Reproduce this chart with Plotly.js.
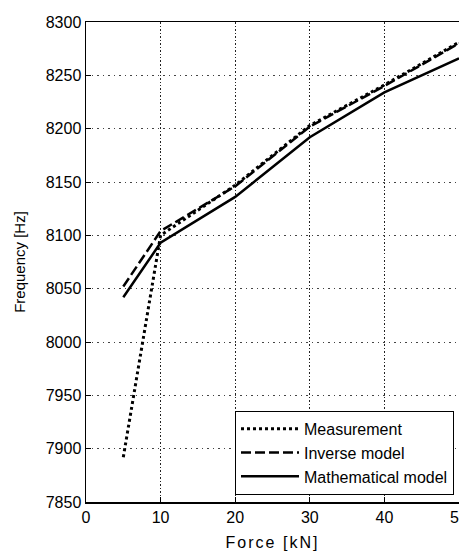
<!DOCTYPE html>
<html>
<head>
<meta charset="utf-8">
<script src="https://cdn.plot.ly/plotly-3.0.1.min.js"></script>
<style>
  html, body { margin: 0; padding: 0; background: #fff; overflow: hidden; }
  #chart { width: 459px; height: 551px; }
  #chart .xtitle { letter-spacing: 2px; }
</style>
</head>
<body>
<div id="chart"></div>
<script>
// Resonance frequency versus applied force
const forceKN = [5, 10, 20, 30, 40, 50];
const measurement = [7892, 8100, 8147, 8203, 8241, 8281];
const inverseModel = [8052, 8104, 8146, 8202, 8240, 8280];
const mathematicalModel = [8042, 8093, 8136, 8192, 8234, 8266];
const seriesNames = ['Measurement', 'Inverse model', 'Mathematical model'];
const xTicks = [0, 10, 20, 30, 40, 50];
const yTicks = [7850, 7900, 7950, 8000, 8050, 8100, 8150, 8200, 8250, 8300];

const font = 'Liberation Sans, Arial, sans-serif';

const traces = [
  {
    x: forceKN, y: measurement, name: seriesNames[0], mode: 'lines',
    line: { color: '#000', width: 3, dash: 'dot' }
  },
  {
    x: forceKN, y: inverseModel, name: seriesNames[1], mode: 'lines',
    line: { color: '#000', width: 2.5, dash: '10px,4px' }
  },
  {
    x: forceKN, y: mathematicalModel, name: seriesNames[2], mode: 'lines',
    line: { color: '#000', width: 2.5 }
  }
];

const layout = {
  width: 459, height: 551,
  margin: { l: 86, r: 0, t: 22, b: 49 },
  paper_bgcolor: '#fff', plot_bgcolor: '#fff',
  font: { family: font, color: '#000', size: 16 },
  showlegend: true,
  legend: {
    x: 0.9866, xanchor: 'right', y: 0.015, yanchor: 'bottom',
    bgcolor: '#fff', bordercolor: '#000', borderwidth: 1,
    font: { family: font, size: 16, color: '#000' },
    itemwidth: 58, tracegroupgap: 0
  },
  xaxis: {
    range: [0, 50], tickvals: xTicks, ticktext: xTicks.map(String),
    ticklabeloverflow: 'allow',
    showgrid: true, gridcolor: '#222', griddash: '1.5px,2px', gridwidth: 1.3,
    showline: true, linecolor: '#000', linewidth: 1.5, mirror: true,
    ticks: 'inside', ticklen: 5, tickcolor: '#000', zeroline: false,
    tickfont: { family: font, size: 16, color: '#000' },
    title: { text: 'Force [kN]', font: { family: font, size: 16, color: '#000' }, standoff: 12 }
  },
  yaxis: {
    range: [7850, 8300], tickvals: yTicks, ticktext: yTicks.map(String),
    showgrid: true, gridcolor: '#444', griddash: '1.5px,4px', gridwidth: 1,
    showline: true, linecolor: '#000', linewidth: 1.5, mirror: true,
    ticks: 'inside', ticklen: 5, tickcolor: '#000', zeroline: false,
    tickfont: { family: font, size: 16, color: '#000' },
    title: { text: 'Frequency [Hz]', font: { family: font, size: 15, color: '#000' }, standoff: 16 }
  }
};

Plotly.newPlot('chart', traces, layout, { displayModeBar: false, staticPlot: true });
</script>
</body>
</html>
